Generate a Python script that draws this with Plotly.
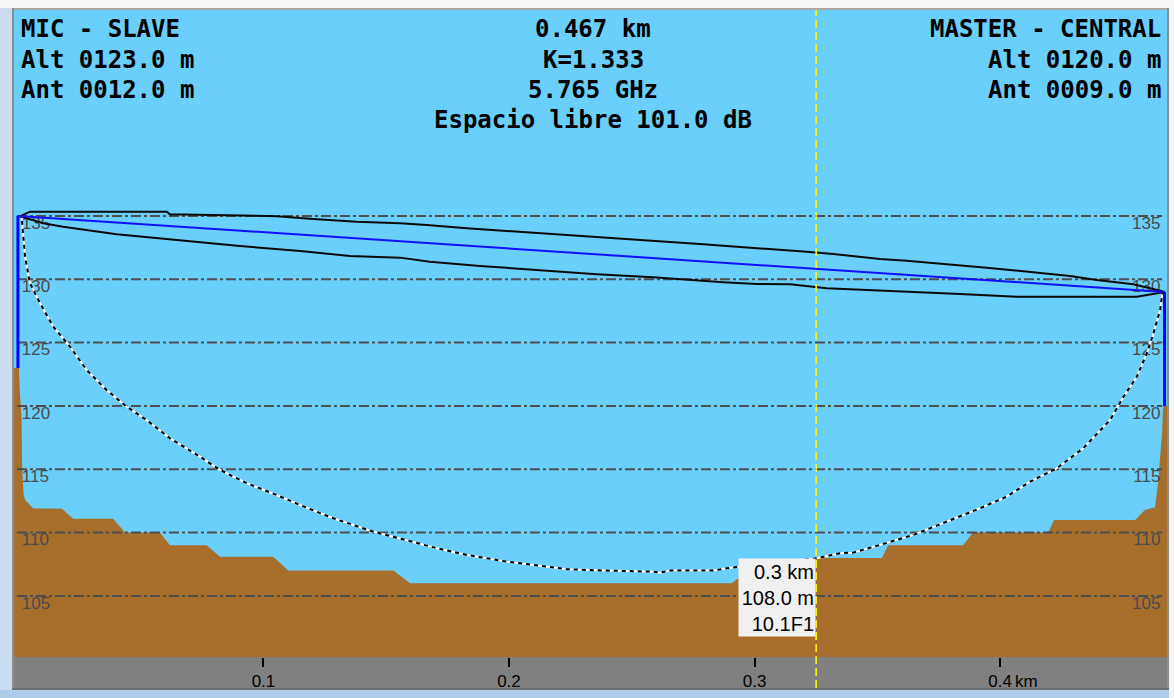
import plotly.graph_objects as go

# ---------------------------------------------------------------------------
# Link profile data (distance in km, elevation in m)
# ---------------------------------------------------------------------------
LINK_KM = 0.467
K_FACTOR = "1.333"
FREQ_GHZ = "5.765"
FREE_SPACE_DB = "101.0"

site_a_name = "MIC - SLAVE"
site_a_alt = 123.0
site_a_ant = 12.0
site_b_name = "MASTER - CENTRAL"
site_b_alt = 120.0
site_b_ant = 9.0

terrain_km = [-0.0016, 0.0000, 0.0004, 0.0008, 0.0015, 0.0017, 0.0023, 0.0029,
              0.0062, 0.0178, 0.0225, 0.0388, 0.0436, 0.0578, 0.0619, 0.0769,
              0.0823, 0.1040, 0.1101, 0.1529, 0.1597, 0.2907, 0.2941, 0.2974,
              0.3230, 0.3251, 0.3519, 0.3544, 0.3849, 0.3890, 0.4196, 0.4220,
              0.4550, 0.4591, 0.4631, 0.4644, 0.4652, 0.4660, 0.4664, 0.4680]
terrain_m = [123.0, 123.0, 123.0, 121.0, 119.0, 115.3, 113.0, 112.6,
             111.9, 111.9, 111.1, 111.1, 110.0, 110.0, 109.0, 109.0,
             108.1, 108.1, 107.0, 107.0, 106.0, 106.0, 106.5, 107.3,
             107.8, 108.0, 108.0, 109.0, 109.0, 110.0, 110.0, 111.0,
             111.0, 111.8, 112.0, 114.0, 115.9, 117.9, 120.0, 120.0]

# Fresnel band around the line of sight
fresnel_up_km = [0.0000, 0.0015, 0.0049, 0.0606, 0.0619, 0.1054, 0.1203, 0.1380,
                 0.1556, 0.1665, 0.1828, 0.1936, 0.2086, 0.2208, 0.2330, 0.2452,
                 0.2561, 0.2683, 0.2791, 0.2914, 0.3009, 0.3145, 0.3213, 0.3321,
                 0.3416, 0.3511, 0.3620, 0.3715, 0.3810, 0.3946, 0.4041, 0.4176,
                 0.4285, 0.4394, 0.4543, 0.4652, 0.4670]
fresnel_up_m = [135.00, 135.02, 135.34, 135.34, 135.13, 134.98, 134.76, 134.55,
                134.42, 134.29, 134.03, 133.89, 133.71, 133.55, 133.36, 133.24,
                133.10, 132.92, 132.77, 132.58, 132.45, 132.32, 132.18, 132.00,
                131.79, 131.60, 131.47, 131.31, 131.19, 130.92, 130.74, 130.48,
                130.26, 129.95, 129.61, 129.10, 129.00]

fresnel_lo_km = [0.0000, 0.0015, 0.0103, 0.0184, 0.0402, 0.0538, 0.0741, 0.0904,
                 0.1149, 0.1352, 0.1556, 0.1678, 0.1882, 0.2113, 0.2357, 0.2588,
                 0.2737, 0.2873, 0.3009, 0.3145, 0.3294, 0.3470, 0.3647, 0.3837,
                 0.4068, 0.4557, 0.4652, 0.4670]
fresnel_lo_m = [135.00, 134.94, 134.42, 134.15, 133.55, 133.29, 132.92, 132.63,
                132.24, 131.84, 131.71, 131.39, 131.05, 130.74, 130.40, 130.16,
                129.95, 129.77, 129.63, 129.61, 129.29, 129.16, 129.02, 128.84,
                128.63, 128.63, 128.94, 129.00]

# Clearance curve (dashed)
clear_km = [0.0000, 0.0015, 0.0029, 0.0049, 0.0090, 0.0144, 0.0212, 0.0280,
            0.0361, 0.0443, 0.0524, 0.0619, 0.0741, 0.0823, 0.0932, 0.1054,
            0.1149, 0.1284, 0.1447, 0.1583, 0.1706, 0.1828, 0.1991, 0.2099,
            0.2235, 0.2398, 0.2588, 0.2615, 0.2656, 0.2832, 0.2887, 0.2941,
            0.3253, 0.3348, 0.3402, 0.3511, 0.3647, 0.3783, 0.3918, 0.4027,
            0.4122, 0.4231, 0.4339, 0.4448, 0.4503, 0.4557, 0.4598, 0.4625,
            0.4652, 0.4661, 0.4670]
clear_m = [135.00, 134.95, 131.79, 129.69, 128.11, 126.26, 124.68, 122.84,
           121.26, 119.94, 118.89, 117.45, 116.00, 114.95, 113.90, 112.97,
           112.18, 111.13, 110.08, 109.42, 108.77, 108.24, 107.71, 107.45,
           107.11, 107.00, 106.92, 106.84, 107.00, 107.00, 107.19, 107.31,
           107.98, 108.37, 108.42, 109.03, 109.82, 110.87, 111.92, 112.84,
           114.02, 115.08, 116.66, 118.89, 120.73, 122.31, 124.16, 125.74,
           127.58, 128.90, 129.00]

# Cursor readout
cursor_km = 0.3251
cursor_label_km = "0.3 km"
cursor_elev = 108.0
cursor_fresnel = "10.1F1"

# Axis ticks
y_ticks = [105, 110, 115, 120, 125, 130, 135]
x_ticks = [0.1, 0.2, 0.3, 0.4]
x_tick_text = ["0.1", "0.2", "0.3", "0.4"]
x_unit = "km"

# ---------------------------------------------------------------------------
# Styling / layout constants
# ---------------------------------------------------------------------------
W, H = 1174, 698
M_L, M_R, M_T, M_B = 14, 7, 10, 41
X_RANGE = [-0.0016, 0.468]
Y_RANGE = [100.18, 151.26]
GRID_X = [-0.0004, 0.466]
SKY = "#6BCFFC"
EARTH = "#A86E2C"
BAR = "#808080"
MONO = "DejaVu Sans Mono"
SANS = "Liberation Sans, Arial, sans-serif"

PW = W - M_L - M_R
PH = H - M_T - M_B


def paper_x(px):
    return (px - M_L) / PW


def paper_y(py):
    return (H - M_B - py) / PH


fig = go.Figure()

# terrain
fig.add_trace(go.Scatter(x=terrain_km, y=terrain_m, mode="lines", fill="tozeroy",
                         fillcolor=EARTH, line=dict(width=0, color=EARTH),
                         hoverinfo="skip"))

# horizontal dash-dot grid
gx, gy = [], []
for v in y_ticks:
    gx += [GRID_X[0], GRID_X[1], None]
    gy += [v, v, None]
fig.add_trace(go.Scatter(x=gx, y=gy, mode="lines",
                         line=dict(color="#4e4e4e", width=2, dash="10px,3px,3px,3px"),
                         hoverinfo="skip"))

# elevation labels on both sides
lab_font = dict(family=SANS, size=17, color="#4a4a4a")
fig.add_trace(go.Scatter(x=[0.0016] * len(y_ticks), y=y_ticks, mode="text",
                         text=[str(v) for v in y_ticks], textposition="bottom right",
                         textfont=lab_font, hoverinfo="skip"))
fig.add_trace(go.Scatter(x=[0.4653] * len(y_ticks), y=y_ticks, mode="text",
                         text=[str(v) for v in y_ticks], textposition="bottom left",
                         textfont=lab_font, hoverinfo="skip"))

# clearance curve: white base with black dashes
fig.add_trace(go.Scatter(x=clear_km, y=clear_m, mode="lines",
                         line=dict(color="white", width=2), hoverinfo="skip"))
fig.add_trace(go.Scatter(x=clear_km, y=clear_m, mode="lines",
                         line=dict(color="black", width=2, dash="4px,4px"),
                         hoverinfo="skip"))

# Fresnel band
fig.add_trace(go.Scatter(x=fresnel_up_km, y=fresnel_up_m, mode="lines",
                         line=dict(color="#0a0a0a", width=2), hoverinfo="skip"))
fig.add_trace(go.Scatter(x=fresnel_lo_km, y=fresnel_lo_m, mode="lines",
                         line=dict(color="#0a0a0a", width=2), hoverinfo="skip"))

# line of sight and antenna masts
top_a = site_a_alt + site_a_ant
top_b = site_b_alt + site_b_ant
fig.add_trace(go.Scatter(x=[0, LINK_KM], y=[top_a, top_b], mode="lines",
                         line=dict(color="#1010FF", width=2), hoverinfo="skip"))
fig.add_trace(go.Scatter(x=[0, 0], y=[site_a_alt, top_a], mode="lines",
                         line=dict(color="#0000FF", width=3), hoverinfo="skip"))
fig.add_trace(go.Scatter(x=[LINK_KM, LINK_KM], y=[site_b_alt, top_b], mode="lines",
                         line=dict(color="#0000FF", width=3), hoverinfo="skip"))

shapes = [
    # window chrome around the plot
    dict(type="rect", xref="paper", yref="paper", x0=paper_x(0), x1=paper_x(W),
         y0=paper_y(8), y1=paper_y(0), fillcolor="#F7F7F7", line_width=0, layer="above"),
    dict(type="rect", xref="paper", yref="paper", x0=paper_x(0), x1=paper_x(W),
         y0=paper_y(10), y1=paper_y(8), fillcolor="#A8A8A8", line_width=0, layer="above"),
    dict(type="rect", xref="paper", yref="paper", x0=paper_x(0), x1=paper_x(12),
         y0=paper_y(H), y1=paper_y(8), fillcolor="#C9DCF0", line_width=0, layer="above"),
    dict(type="rect", xref="paper", yref="paper", x0=paper_x(12), x1=paper_x(14),
         y0=paper_y(690), y1=paper_y(8), fillcolor="#8C8C8C", line_width=0, layer="above"),
    dict(type="rect", xref="paper", yref="paper", x0=paper_x(1167), x1=paper_x(1169),
         y0=paper_y(690), y1=paper_y(8), fillcolor="#8C8C8C", line_width=0, layer="above"),
    dict(type="rect", xref="paper", yref="paper", x0=paper_x(1169), x1=paper_x(W),
         y0=paper_y(H), y1=paper_y(8), fillcolor="#F4F4F4", line_width=0, layer="above"),
    dict(type="rect", xref="paper", yref="paper", x0=paper_x(12), x1=paper_x(1169),
         y0=paper_y(690), y1=paper_y(688), fillcolor="#6E6E6E", line_width=0, layer="above"),
    dict(type="rect", xref="paper", yref="paper", x0=paper_x(0), x1=paper_x(1169),
         y0=paper_y(H), y1=paper_y(690), fillcolor="#AFCBE8", line_width=0, layer="above"),
    # cursor
    dict(type="line", xref="x", yref="paper", x0=cursor_km, x1=cursor_km,
         y0=paper_y(688), y1=1, line=dict(color="#FFFF00", width=1.5, dash="8px,4px"),
         layer="above"),
]

head_font = dict(family=MONO, size=24, color="black", weight="bold")
rows = [29.5, 60.5, 90.5, 119.5]
annotations = []
left_lines = [site_a_name, f"Alt {site_a_alt:06.1f} m", f"Ant {site_a_ant:06.1f} m"]
right_lines = [site_b_name, f"Alt {site_b_alt:06.1f} m", f"Ant {site_b_ant:06.1f} m"]
mid_lines = [f"{LINK_KM:.3f} km", f"K={K_FACTOR}", f"{FREQ_GHZ} GHz",
             f"Espacio libre {FREE_SPACE_DB} dB"]
for i, t in enumerate(left_lines):
    annotations.append(dict(text=t, xref="paper", yref="paper", x=paper_x(19),
                            y=paper_y(rows[i]), xanchor="left", yanchor="middle",
                            showarrow=False, font=head_font))
for i, t in enumerate(right_lines):
    annotations.append(dict(text=t, xref="paper", yref="paper", x=paper_x(1163),
                            y=paper_y(rows[i]), xanchor="right", yanchor="middle",
                            showarrow=False, font=head_font))
for i, t in enumerate(mid_lines):
    annotations.append(dict(text=t, xref="paper", yref="paper", x=paper_x(593),
                            y=paper_y(rows[i]), xanchor="center", yanchor="middle",
                            showarrow=False, font=head_font))

# cursor readout box
annotations.append(dict(text=f"{cursor_label_km}<br>{cursor_elev:.1f} m<br>{cursor_fresnel}",
                        xref="x", yref="y", x=cursor_km, y=cursor_elev,
                        xanchor="right", yanchor="top", align="right", showarrow=False,
                        bgcolor="#F0F0F0", borderpad=1, width=74, height=75,
                        font=dict(family=SANS, size=20, color="black")))

# unit next to the last distance tick
annotations.append(dict(text=x_unit, xref="x", yref="paper", x=x_ticks[-1],
                        y=paper_y(681), xanchor="left", yanchor="middle", xshift=13,
                        showarrow=False, font=dict(family=SANS, size=17, color="black")))

fig.update_layout(
    width=W, height=H,
    margin=dict(l=M_L, r=M_R, t=M_T, b=M_B, pad=0),
    paper_bgcolor=BAR, plot_bgcolor=SKY,
    showlegend=False,
    xaxis=dict(range=X_RANGE, tickvals=x_ticks, ticktext=x_tick_text,
               ticks="outside", ticklen=9, tickwidth=1.5, tickcolor="black",
               tickfont=dict(family=SANS, size=17, color="black"),
               showgrid=False, zeroline=False, showline=False, fixedrange=True),
    yaxis=dict(range=Y_RANGE, showticklabels=False, showgrid=False, zeroline=False,
               showline=False, ticks="", fixedrange=True),
    shapes=shapes,
    annotations=annotations,
)

fig.write_html("out.html")
